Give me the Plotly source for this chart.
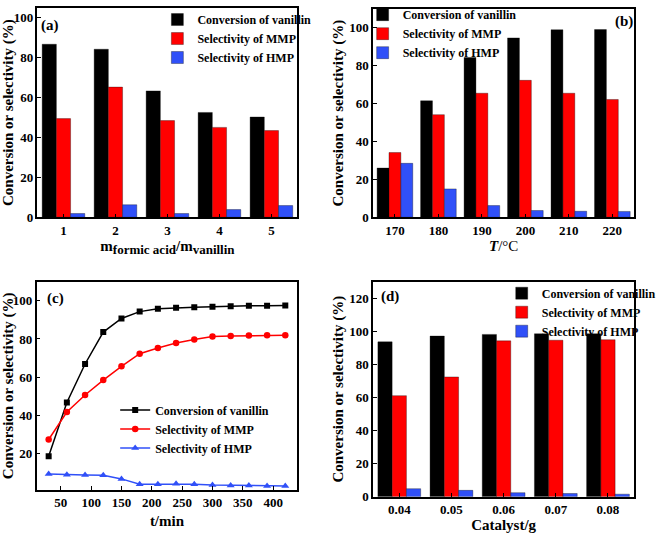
import plotly.graph_objects as go

W, H = 661, 535

# ---------------- data ----------------
ratio_a = [1, 2, 3, 4, 5]
conv_a = [86.8, 84.3, 63.4, 52.6, 50.3]
mmp_a = [49.5, 65.3, 48.5, 45.1, 43.5]
hmp_a = [1.9, 6.3, 1.9, 3.9, 5.9]

temp_b = [170, 180, 190, 200, 210, 220]
conv_b = [26.0, 61.5, 84.4, 94.7, 99.0, 99.1]
mmp_b = [34.2, 54.2, 65.5, 72.3, 65.5, 62.2]
hmp_b = [28.5, 15.0, 6.2, 3.6, 3.2, 3.1]

time_c = [30, 60, 90, 120, 150, 180, 210, 240, 270, 300, 330, 360, 390, 420]
conv_c = [18.6, 46.8, 66.9, 83.6, 90.7, 94.3, 95.8, 96.3, 96.6, 96.8, 97.1, 97.3, 97.3, 97.5]
mmp_c = [27.4, 41.8, 50.7, 58.5, 65.7, 72.3, 75.3, 77.9, 79.7, 81.3, 81.6, 81.8, 81.9, 81.9]
hmp_c = [9.4, 9.0, 8.9, 8.7, 6.8, 4.0, 4.0, 4.3, 4.0, 3.6, 3.4, 3.4, 3.1, 3.1]

cat_d = ["0.04", "0.05", "0.06", "0.07", "0.08"]
conv_d = [93.6, 97.1, 98.1, 98.5, 98.5]
mmp_d = [61.1, 72.4, 94.2, 94.6, 94.9]
hmp_d = [4.9, 3.9, 2.5, 2.0, 1.6]

names = ["Conversion of vanillin", "Selectivity of MMP", "Selectivity of HMP"]
BLACK, RED, BLUE = "#000000", "#ff0000", "#3050f8"
FONT = "Liberation Serif"


def px_x(p):
    return p / W


def px_y(p):
    return 1 - p / H


fig = go.Figure()

# ---- bar panels ----
bar_line = dict(color="rgba(0,0,0,0.55)", width=0.6)
for (xs, series, xa, ya, leg) in [
    (ratio_a, [conv_a, mmp_a, hmp_a], "x", "y", "legend"),
    (temp_b, [conv_b, mmp_b, hmp_b], "x2", "y2", "legend2"),
    (cat_d, [conv_d, mmp_d, hmp_d], "x4", "y4", "legend4"),
]:
    for name, vals, col in zip(names, series, [BLACK, RED, BLUE]):
        fig.add_trace(go.Bar(x=xs, y=vals, name=name, marker_color=col,
                             marker_line=bar_line, xaxis=xa, yaxis=ya,
                             legend=leg))

# ---- line panel ----
for name, vals, col, sym, sz in zip(names, [conv_c, mmp_c, hmp_c],
                                   [BLACK, RED, BLUE],
                                   ["square", "circle", "triangle-up"],
                                   [6, 6.5, 7]):
    fig.add_trace(go.Scatter(x=time_c, y=vals, name=name, mode="lines+markers",
                             line=dict(color=col, width=1.5),
                             marker=dict(symbol=sym, size=sz, color=col),
                             xaxis="x3", yaxis="y3", legend="legend3"))

axis_common = dict(showline=True, linecolor="black", linewidth=1.5,
                   mirror=True, ticks="inside", ticklen=4, tickwidth=1,
                   tickcolor="black", showgrid=False, zeroline=False,
                   tickfont=dict(size=13, family=FONT, weight="bold"))
ytitle = "Conversion or selectivity (%)"
ytitle_font = dict(size=15, family=FONT, weight="bold")

xa_title = ("m<sub><span style='font-size:13px'>formic acid</span></sub>/"
            "m<sub><span style='font-size:13px'>vanillin</span></sub>")

fig.update_layout(
    width=W, height=H, margin=dict(l=0, r=0, t=0, b=0),
    paper_bgcolor="white", plot_bgcolor="white",
    font=dict(family=FONT, color="black", weight="bold"),
    barmode="group", bargap=0.18, bargroupgap=0,
    xaxis=dict(axis_common, domain=[px_x(37), px_x(308)], range=[0.5, 5.5],
               tickvals=ratio_a, anchor="y",
               title=dict(text=xa_title,
                          font=dict(size=15, family=FONT, weight="bold"),
                          standoff=0)),
    yaxis=dict(axis_common, domain=[px_y(217), px_y(2)], range=[0, 105],
               dtick=20, anchor="x",
               title=dict(text=ytitle, font=ytitle_font, standoff=2)),
    xaxis2=dict(axis_common, domain=[px_x(387), px_x(659)], range=[165, 225],
                tickvals=temp_b, anchor="y2",
                title=dict(text="<i>T</i><span style='font-weight:normal'>/°C</span>",
                           font=dict(size=15, family=FONT, weight="bold"),
                           standoff=4)),
    yaxis2=dict(axis_common, domain=[px_y(217), px_y(3)], range=[0, 110],
                dtick=20, anchor="x2",
                title=dict(text=ytitle, font=ytitle_font, standoff=2)),
    xaxis3=dict(axis_common, domain=[px_x(36), px_x(308)], range=[10, 440],
                dtick=50, tick0=0, anchor="y3",
                title=dict(text="t/min", font=dict(size=15, family=FONT, weight="bold"),
                           standoff=6)),
    yaxis3=dict(axis_common, domain=[px_y(497), px_y(283)], range=[1, 110],
                tickvals=[20, 40, 60, 80, 100], anchor="x3",
                title=dict(text=ytitle, font=ytitle_font, standoff=2)),
    xaxis4=dict(axis_common, domain=[px_x(387), px_x(659)], range=[-0.5, 4.5],
                type="category", anchor="y4",
                title=dict(text="Catalyst/g", font=dict(size=15, family=FONT, weight="bold"),
                           standoff=1)),
    yaxis4=dict(axis_common, domain=[px_y(504), px_y(283)], range=[0, 130],
                dtick=20, anchor="x4",
                title=dict(text=ytitle, font=ytitle_font, standoff=2)),
)

leg_common = dict(bgcolor="rgba(0,0,0,0)", borderwidth=0,
                  font=dict(size=12, family=FONT, weight="bold"),
                  xanchor="left", yanchor="top", tracegroupgap=0)
fig.update_layout(
    legend=dict(leg_common, x=px_x(162), y=px_y(-1)),
    legend2=dict(leg_common, x=px_x(376), y=px_y(-6)),
    legend3=dict(leg_common, x=px_x(118), y=px_y(400)),
    legend4=dict(leg_common, x=px_x(521), y=px_y(280)),
)

# panel labels
for txt, x, y in [("(a)", 50, 20), ("(b)", 649, 16), ("(c)", 56, 300), ("(d)", 405, 298)]:
    fig.add_annotation(text=txt, x=px_x(x), y=px_y(y), xref="paper", yref="paper",
                       showarrow=False, font=dict(size=15, family=FONT, weight="bold"),
                       xanchor="center", yanchor="middle")

fig.write_html("out.html")
